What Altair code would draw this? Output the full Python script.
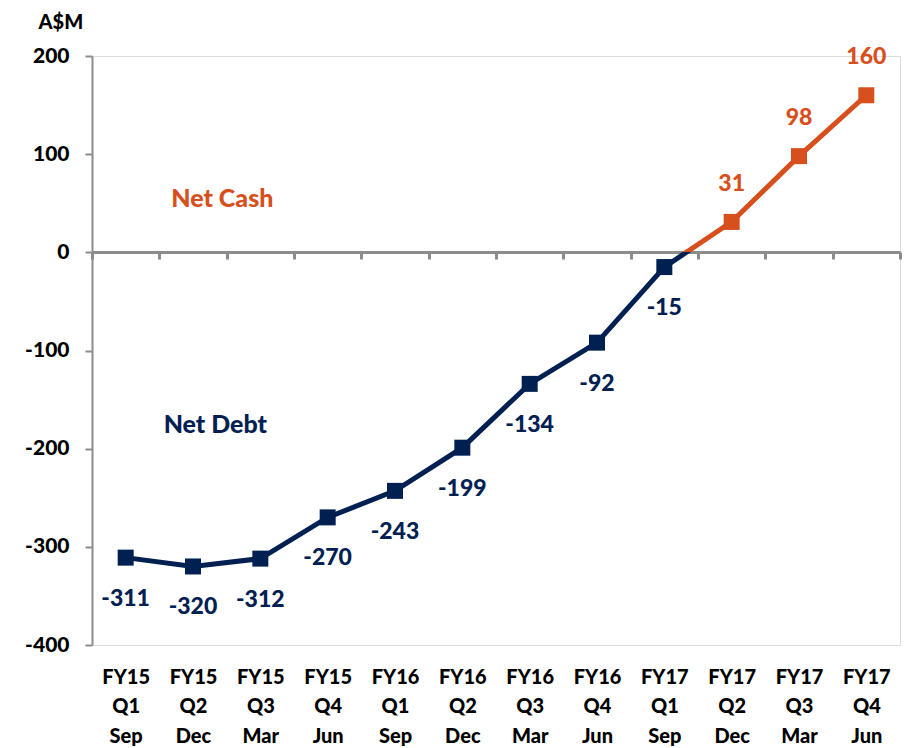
import altair as alt
import pandas as pd

categories = ["FY15|Q1|Sep", "FY15|Q2|Dec", "FY15|Q3|Mar", "FY15|Q4|Jun",
              "FY16|Q1|Sep", "FY16|Q2|Dec", "FY16|Q3|Mar", "FY16|Q4|Jun",
              "FY17|Q1|Sep", "FY17|Q2|Dec", "FY17|Q3|Mar", "FY17|Q4|Jun"]
values = [-311, -320, -312, -270, -243, -199, -134, -92, -15, 31, 98, 160]
y_ticks = [-400, -300, -200, -100, 0, 100, 200]
y_domain = [-400, 200]
annot_text = ["Net Cash", "Net Debt"]
annot_cat = ["FY15|Q3|Mar", "FY15|Q3|Mar"]
annot_y = [54, -176]

NAVY = "#012052"
ORANGE = "#d64f1c"
GRAY = "#8c8c8c"
FONT = "Lato"
WEIGHT = 900

df = pd.DataFrame({"cat": categories, "value": values,
                   "label": [str(v) for v in values]})
ann = pd.DataFrame({"text": annot_text, "cat": annot_cat, "y": annot_y})

x_enc = alt.X("cat:N", sort=categories, title=None,
              scale=alt.Scale(paddingInner=0, paddingOuter=0),
              axis=alt.Axis(orient="bottom", offset=-393, domainColor=GRAY, domainWidth=3,
                            tickColor=GRAY, tickWidth=3, tickSize=7, tickBand="extent",
                            labelAngle=0, labelPadding=408,
                            labelExpr="split(datum.label, '|')",
                            labelFont=FONT, labelFontSize=20, labelFontWeight=WEIGHT,
                            labelColor="black", labelLineHeight=29.5,
                            labelBaseline="top"))
y_enc = alt.Y("value:Q", scale=alt.Scale(domain=y_domain, nice=False, zero=False),
              axis=alt.Axis(values=y_ticks, grid=False, domainColor=GRAY, domainWidth=2,
                            tickColor=GRAY, tickWidth=2, tickSize=7, labelPadding=16,
                            labelExpr="toString(datum.value)",
                            labelFont=FONT, labelFontSize=21, labelFontWeight=WEIGHT,
                            labelColor="black",
                            title="A$M", titleAngle=0, titleAlign="left",
                            titleBaseline="middle", titleX=-54, titleY=-34,
                            titleFont=FONT, titleFontSize=20, titleFontWeight=WEIGHT,
                            titleColor="black"))

vmax, vmin = max(values), min(values)
f = vmax / (vmax - vmin)
grad = alt.LinearGradient(gradient="linear", x1=0, x2=0, y1=0, y2=1,
                          stops=[alt.GradientStop(color=ORANGE, offset=0),
                                 alt.GradientStop(color=ORANGE, offset=f),
                                 alt.GradientStop(color=NAVY, offset=f),
                                 alt.GradientStop(color=NAVY, offset=1)])

base = alt.Chart(df)
line = base.mark_line(stroke=grad, strokeWidth=5).encode(x=x_enc, y=y_enc)
pts = base.mark_square(size=256, opacity=1, filled=True).encode(
    x=alt.X("cat:N", sort=categories),
    y="value:Q",
    color=alt.condition(alt.datum.value < 0, alt.value(NAVY), alt.value(ORANGE)))
lab_neg = base.transform_filter(alt.datum.value < 0).mark_text(
    dy=41, font=FONT, fontSize=23, fontWeight=WEIGHT, color=NAVY).encode(
    x=alt.X("cat:N", sort=categories), y="value:Q", text="label:N")
lab_pos = base.transform_filter(alt.datum.value >= 0).mark_text(
    dy=-38, font=FONT, fontSize=23, fontWeight=WEIGHT, color=ORANGE).encode(
    x=alt.X("cat:N", sort=categories), y="value:Q", text="label:N")

ann_cash = alt.Chart(ann.iloc[[0]]).mark_text(
    dx=-38, font=FONT, fontSize=25, fontWeight=WEIGHT, color=ORANGE).encode(
    x=alt.X("cat:N", sort=categories), y=alt.Y("y:Q"), text="text:N")
ann_debt = alt.Chart(ann.iloc[[1]]).mark_text(
    dx=-45, font=FONT, fontSize=25, fontWeight=WEIGHT, color=NAVY).encode(
    x=alt.X("cat:N", sort=categories), y=alt.Y("y:Q"), text="text:N")

chart = alt.layer(line, pts, lab_neg, lab_pos, ann_cash, ann_debt).properties(
    width=808, height=589,
    autosize=alt.AutoSizeParams(type="none"),
    padding={"left": 84, "top": 48, "right": 4, "bottom": 120},
).configure_view(stroke=None).configure(background="white")

chart.save("out.html", embed_options={"renderer": "svg", "actions": False})
